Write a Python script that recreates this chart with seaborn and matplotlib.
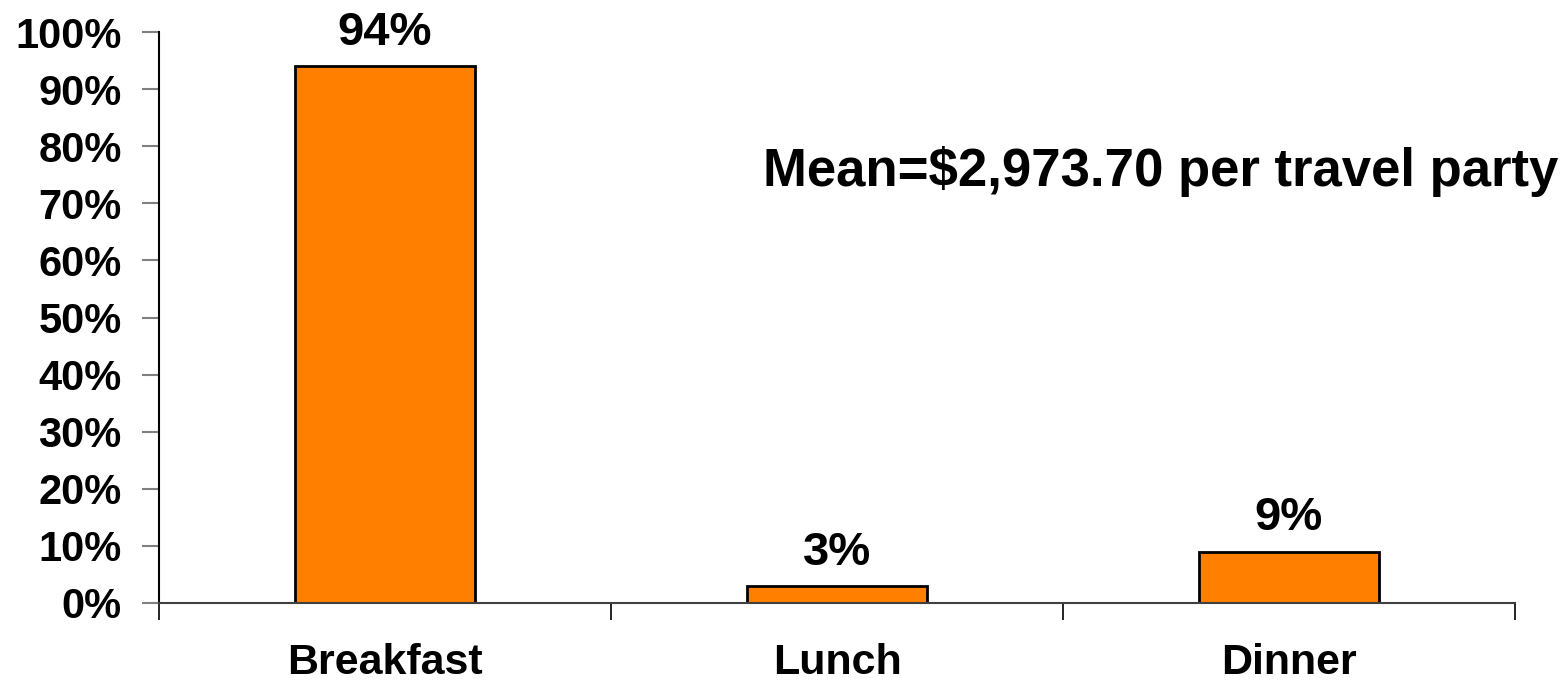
import pandas as pd
import matplotlib
matplotlib.use("Agg")
import matplotlib.pyplot as plt
import seaborn as sns

# Data
meals = ["Breakfast", "Lunch", "Dinner"]
share = [94, 3, 9]
y_ticks = list(range(0, 101, 10))
note = "Mean=$2,973.70 per travel party"

df = pd.DataFrame({"Meal": meals, "Share": share})

sns.set_style("white")
plt.rcParams["font.family"] = ["Liberation Sans", "DejaVu Sans"]
plt.rcParams["font.weight"] = "bold"
plt.rcParams["text.color"] = "black"
plt.rcParams["xtick.labelcolor"] = "black"
plt.rcParams["ytick.labelcolor"] = "black"

fig = plt.figure(figsize=(15.68, 6.84), dpi=100)
ax = fig.add_axes([159 / 1568, 81 / 684, 1356 / 1568, 571 / 684])

sns.barplot(data=df, x="Meal", y="Share", color="#FF8000", saturation=1,
            edgecolor="black", linewidth=2, width=0.4, ax=ax)

ax.set_xlim(-0.5, len(meals) - 0.5)
ax.set_ylim(0, 100)
ax.set_xlabel("")
ax.set_ylabel("")

# y axis: percent labels, grey outward ticks
ax.set_yticks(y_ticks)
ax.set_yticklabels([f"{t}%" for t in y_ticks], fontsize=30, fontweight="bold",
                   color="black")
ax.tick_params(axis="y", direction="out", length=12, width=1.5, color="#808080",
               left=True, pad=15)

# x axis: ticks between categories, labels at centres
ax.set_xticks([i - 0.5 for i in range(len(meals) + 1)])
ax.set_xticklabels([])
ax.set_xticks(range(len(meals)), minor=True)
ax.set_xticklabels(meals, minor=True, fontsize=31, fontweight="bold",
                   color="black")
ax.tick_params(axis="x", which="major", direction="out", length=12, width=1.2,
               color="black", bottom=True)
ax.tick_params(axis="x", which="minor", length=0, pad=29)

for side in ["top", "right"]:
    ax.spines[side].set_visible(False)
ax.spines["left"].set_color("black")
ax.spines["left"].set_linewidth(1.5)
ax.spines["bottom"].set_color("#404040")
ax.spines["bottom"].set_linewidth(1.5)

ax.bar_label(ax.containers[0], fmt="{:.0f}%", padding=8, fontsize=34,
             fontweight="bold", color="black")

ax.text(1.717, 75.5, note, ha="center", va="center", fontsize=38,
        fontweight="bold", color="black")

fig.savefig("out.png", dpi=100)
